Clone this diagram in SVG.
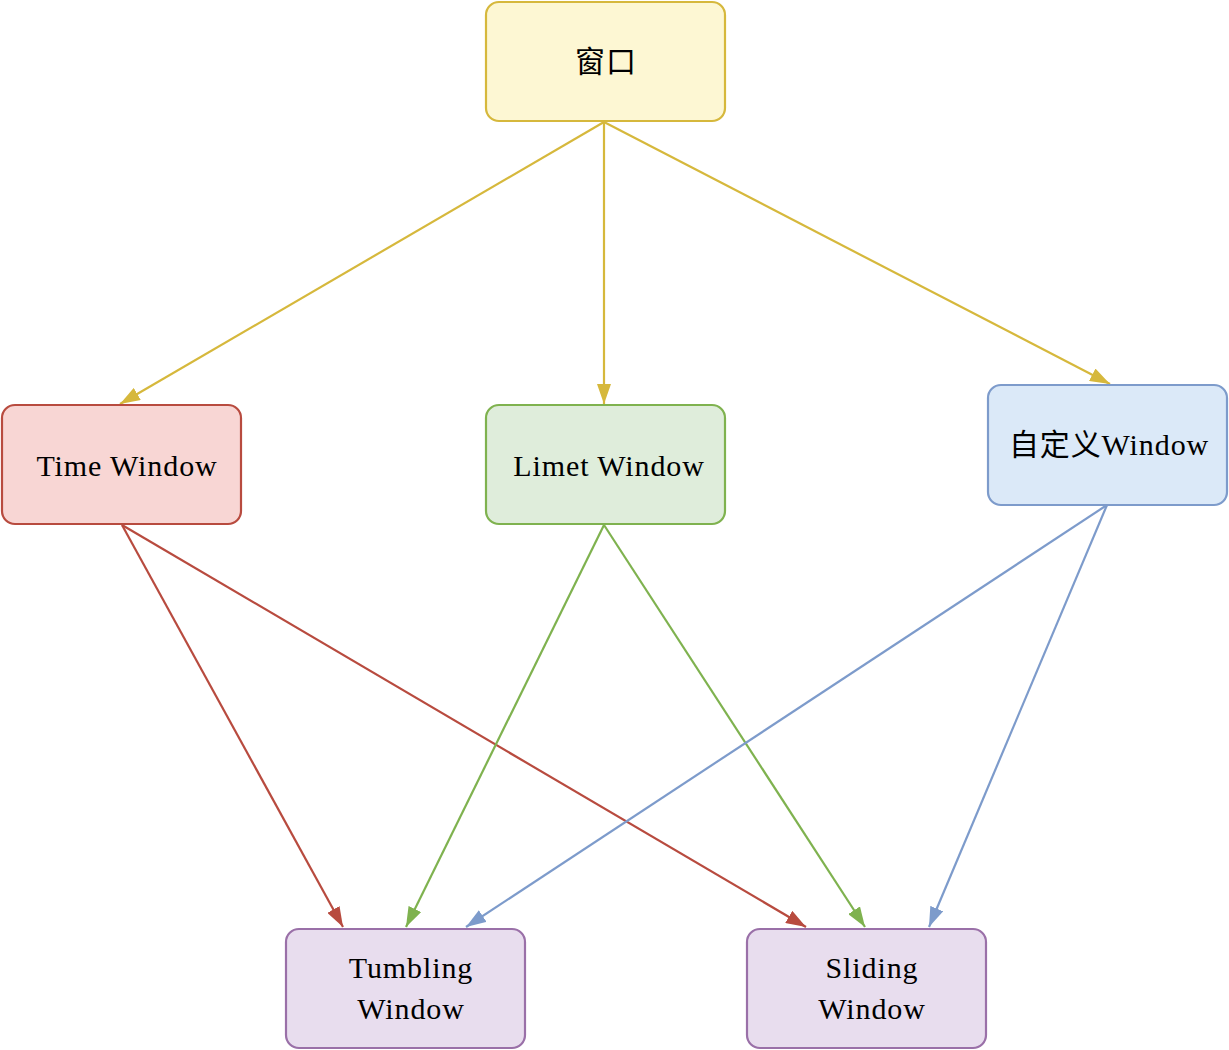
<svg xmlns="http://www.w3.org/2000/svg" width="1229" height="1050" viewBox="0 0 1229 1050">
<defs>
<style>
.n rect{stroke-width:2.2}
.t{font-family:"Liberation Serif","Noto Sans CJK SC",serif;font-size:30px;fill:#000;text-anchor:middle;letter-spacing:0.9px}
.e path{fill:none;stroke-width:2.2}
</style>
<marker id="ay" viewBox="0 0 20 14" refX="20" refY="7" markerWidth="20" markerHeight="14" markerUnits="userSpaceOnUse" orient="auto"><path d="M0,0 L20,7 L0,14 Z" fill="#d6b83c"/></marker>
<marker id="ar" viewBox="0 0 20 14" refX="20" refY="7" markerWidth="20" markerHeight="14" markerUnits="userSpaceOnUse" orient="auto"><path d="M0,0 L20,7 L0,14 Z" fill="#b84b3f"/></marker>
<marker id="ag" viewBox="0 0 20 14" refX="20" refY="7" markerWidth="20" markerHeight="14" markerUnits="userSpaceOnUse" orient="auto"><path d="M0,0 L20,7 L0,14 Z" fill="#7fb24f"/></marker>
<marker id="ab" viewBox="0 0 20 14" refX="20" refY="7" markerWidth="20" markerHeight="14" markerUnits="userSpaceOnUse" orient="auto"><path d="M0,0 L20,7 L0,14 Z" fill="#7d9bcb"/></marker>
</defs>
<rect width="1229" height="1050" fill="#fff"/>
<g id="connectors" class="e">
<path d="M604,122 L120,404" stroke="#d6b83c" marker-end="url(#ay)"/>
<path d="M604,122 L604,404" stroke="#d6b83c" marker-end="url(#ay)"/>
<path d="M604,122 L1110,384" stroke="#d6b83c" marker-end="url(#ay)"/>
<path d="M122,525 L343,927" stroke="#b84b3f" marker-end="url(#ar)"/>
<path d="M122,525 L806,927" stroke="#b84b3f" marker-end="url(#ar)"/>
<path d="M604,525 L406,927" stroke="#7fb24f" marker-end="url(#ag)"/>
<path d="M604,525 L865,927" stroke="#7fb24f" marker-end="url(#ag)"/>
<path d="M1107,505 L466,927" stroke="#7d9bcb" marker-end="url(#ab)"/>
<path d="M1107,505 L929,927" stroke="#7d9bcb" marker-end="url(#ab)"/>
</g>
<g id="node-window" class="n"><rect x="486" y="2" width="239" height="119" rx="13" fill="#fdf7d3" stroke="#d6b83c"/><text class="t" x="606" y="72" font-size="28">窗口</text></g>
<g id="node-time" class="n"><rect x="2" y="405" width="239" height="119" rx="13" fill="#f8d6d4" stroke="#b84b3f"/><text class="t" x="127" y="476">Time Window</text></g>
<g id="node-limet" class="n"><rect x="486" y="405" width="239" height="119" rx="13" fill="#dfeddb" stroke="#7fb24f"/><text class="t" x="609" y="476">Limet Window</text></g>
<g id="node-custom" class="n"><rect x="988" y="385" width="239" height="120" rx="13" fill="#dbe9f8" stroke="#7d9bcb"/><text class="t" x="1109" y="455">自定义Window</text></g>
<g id="node-tumbling" class="n"><rect x="286" y="929" width="239" height="119" rx="13" fill="#e8ddee" stroke="#9a70a8"/><text class="t" x="411" y="978">Tumbling</text><text class="t" x="411" y="1019">Window</text></g>
<g id="node-sliding" class="n"><rect x="747" y="929" width="239" height="119" rx="13" fill="#e8ddee" stroke="#9a70a8"/><text class="t" x="872" y="978">Sliding</text><text class="t" x="872" y="1019">Window</text></g>
</svg>
